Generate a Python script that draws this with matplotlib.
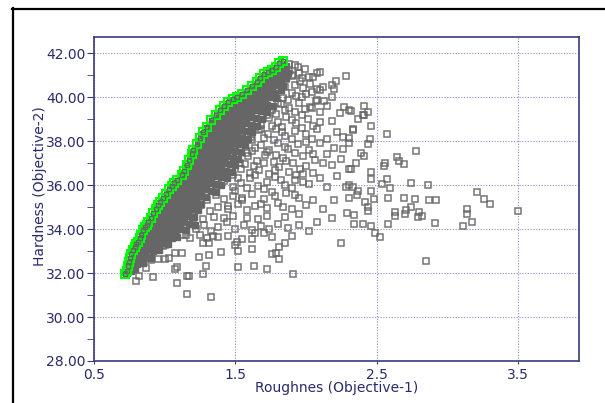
import matplotlib
matplotlib.use("Agg")
import matplotlib.pyplot as plt
from matplotlib.lines import Line2D
from matplotlib.ticker import FormatStrFormatter, MultipleLocator

# pareto front (green squares)
front_pts = [
    (0.72, 31.95), (0.73, 32.1), (0.74, 32.3), (0.75, 32.5), (0.755, 32.67),
    (0.765, 32.85), (0.778, 33.05), (0.79, 33.2), (0.80, 33.3), (0.813, 33.42),
    (0.825, 33.6), (0.835, 33.75), (0.848, 33.95), (0.86, 34.1), (0.872, 34.2),
    (0.884, 34.33), (0.90, 34.5), (0.92, 34.71), (0.935, 34.9), (0.954, 35.09),
    (0.97, 35.25), (0.99, 35.4), (1.01, 35.6), (1.03, 35.8), (1.05, 35.95),
    (1.065, 36.08), (1.09, 36.25), (1.12, 36.45), (1.14, 36.65), (1.16, 36.9),
    (1.175, 37.15), (1.19, 37.4), (1.20, 37.6), (1.225, 37.85), (1.249, 38.12),
    (1.27, 38.4), (1.296, 38.65), (1.33, 38.95), (1.36, 39.2), (1.39, 39.41),
    (1.42, 39.6), (1.447, 39.79), (1.48, 39.9), (1.51, 40.01), (1.545, 40.15),
    (1.58, 40.32), (1.615, 40.5), (1.65, 40.70), (1.675, 40.88), (1.70, 41.05),
    (1.73, 41.15), (1.756, 41.23), (1.785, 41.38), (1.81, 41.53), (1.84, 41.62),
]

# dense core just behind the front
core_pts = [
    (0.73, 32.0), (0.76, 32.1), (0.745, 32.3), (0.78, 32.25),
    (0.76, 32.6), (0.80, 32.55), (0.83, 32.5),
    (0.78, 32.9), (0.82, 32.85), (0.86, 32.9),
    (0.80, 33.2), (0.84, 33.15), (0.88, 33.25), (0.91, 33.1),
    (0.83, 33.5), (0.87, 33.45), (0.91, 33.55), (0.95, 33.4), (0.99, 33.5),
    (0.85, 33.8), (0.89, 33.75), (0.93, 33.85), (0.97, 33.7), (1.01, 33.8), (1.05, 33.75),
    (0.87, 34.1), (0.91, 34.05), (0.95, 34.15), (0.99, 34.0), (1.03, 34.1), (1.07, 34.05), (1.11, 34.15),
    (0.90, 34.4), (0.94, 34.35), (0.98, 34.45), (1.02, 34.3), (1.06, 34.4), (1.10, 34.35),
    (0.93, 34.7), (0.97, 34.65), (1.01, 34.75), (1.05, 34.6), (1.09, 34.7), (1.13, 34.65),
    (0.955, 35.0), (0.995, 34.95), (1.035, 35.05), (1.075, 34.9), (1.115, 35.0), (1.155, 34.95),
    (0.99, 35.3), (1.03, 35.25), (1.07, 35.35), (1.11, 35.2), (1.15, 35.3), (1.19, 35.25),
    (1.02, 35.6), (1.06, 35.55), (1.10, 35.65), (1.14, 35.5), (1.18, 35.6), (1.22, 35.55), (1.26, 35.6),
    (1.05, 35.9), (1.09, 35.85), (1.13, 35.95), (1.17, 35.8), (1.21, 35.9), (1.25, 35.85), (1.29, 35.95),
    (1.09, 36.2), (1.13, 36.15), (1.17, 36.25), (1.21, 36.1), (1.25, 36.2), (1.29, 36.15), (1.33, 36.25),
    (1.13, 36.5), (1.17, 36.45), (1.21, 36.55), (1.25, 36.4), (1.29, 36.5), (1.33, 36.45), (1.37, 36.55),
    (1.16, 36.8), (1.20, 36.75), (1.24, 36.85), (1.28, 36.7), (1.32, 36.8), (1.36, 36.75), (1.40, 36.85),
    (1.18, 37.1), (1.22, 37.05), (1.26, 37.15), (1.30, 37.0), (1.34, 37.1), (1.38, 37.05), (1.42, 37.15),
    (1.20, 37.4), (1.24, 37.35), (1.28, 37.45), (1.32, 37.3), (1.36, 37.4), (1.40, 37.35), (1.44, 37.45),
    (1.22, 37.7), (1.26, 37.65), (1.30, 37.75), (1.34, 37.6), (1.38, 37.7), (1.42, 37.65), (1.46, 37.75),
    (1.25, 38.0), (1.29, 37.95), (1.33, 38.05), (1.37, 37.9), (1.41, 38.0), (1.45, 37.95), (1.49, 38.05),
    (1.27, 38.3), (1.31, 38.25), (1.35, 38.35), (1.39, 38.2), (1.43, 38.3), (1.47, 38.25), (1.51, 38.35),
    (1.30, 38.6), (1.34, 38.55), (1.38, 38.65), (1.42, 38.5), (1.46, 38.6), (1.50, 38.55), (1.54, 38.65),
    (1.335, 38.9), (1.375, 38.85), (1.415, 38.95), (1.455, 38.8), (1.495, 38.9), (1.535, 38.85), (1.575, 38.95),
    (1.37, 39.2), (1.41, 39.15), (1.45, 39.25), (1.49, 39.1), (1.53, 39.2), (1.57, 39.15), (1.61, 39.25),
    (1.41, 39.5), (1.45, 39.45), (1.49, 39.55), (1.53, 39.4), (1.57, 39.5), (1.61, 39.45), (1.65, 39.55),
    (1.46, 39.8), (1.50, 39.75), (1.54, 39.85), (1.58, 39.7), (1.62, 39.8), (1.66, 39.75), (1.70, 39.85),
    (1.54, 40.1), (1.58, 40.05), (1.62, 40.15), (1.66, 40.0), (1.70, 40.1), (1.74, 40.05),
    (1.60, 40.4), (1.64, 40.35), (1.68, 40.45), (1.72, 40.3), (1.76, 40.4),
    (1.66, 40.7), (1.70, 40.65), (1.74, 40.75), (1.78, 40.6), (1.82, 40.7),
    (1.71, 41.0), (1.75, 40.95), (1.79, 41.05), (1.83, 40.9),
    (1.78, 41.3), (1.82, 41.25), (1.85, 41.3), (1.83, 41.5),
]

# second layer of the core, between the rows above
core2_pts = [
    (0.75, 32.15), (0.79, 32.2),
    (0.765, 32.45), (0.805, 32.4), (0.845, 32.45),
    (0.78, 32.75), (0.82, 32.7), (0.86, 32.75), (0.90, 32.7),
    (0.80, 33.05), (0.84, 33.0), (0.88, 33.1), (0.92, 33.0), (0.96, 33.05),
    (0.82, 33.35), (0.86, 33.3), (0.90, 33.4), (0.94, 33.3), (0.98, 33.35), (1.02, 33.3),
    (0.85, 33.65), (0.89, 33.6), (0.93, 33.7), (0.97, 33.6), (1.01, 33.65), (1.05, 33.6), (1.09, 33.65),
    (0.87, 33.95), (0.91, 33.9), (0.95, 34.0), (0.99, 33.9), (1.03, 33.95), (1.07, 33.9), (1.11, 34.0), (1.15, 33.95),
    (0.895, 34.25), (0.935, 34.2), (0.975, 34.3), (1.015, 34.2), (1.055, 34.25), (1.095, 34.2), (1.135, 34.3),
    (1.175, 34.25), (1.215, 34.2),
    (0.925, 34.55), (0.965, 34.5), (1.005, 34.6), (1.045, 34.5), (1.085, 34.55), (1.125, 34.5), (1.165, 34.6),
    (1.205, 34.55),
    (0.955, 34.85), (0.995, 34.8), (1.035, 34.9), (1.075, 34.8), (1.115, 34.85), (1.155, 34.8), (1.195, 34.9),
    (1.235, 34.85),
    (0.98, 35.15), (1.02, 35.1), (1.06, 35.2), (1.10, 35.1), (1.14, 35.15), (1.18, 35.1), (1.22, 35.2), (1.26, 35.15),
    (1.015, 35.45), (1.055, 35.4), (1.095, 35.5), (1.135, 35.4), (1.175, 35.45), (1.215, 35.4), (1.255, 35.5),
    (1.295, 35.45),
    (1.045, 35.75), (1.085, 35.7), (1.125, 35.8), (1.165, 35.7), (1.205, 35.75), (1.245, 35.7), (1.285, 35.8),
    (1.325, 35.75), (1.365, 35.7),
    (1.08, 36.05), (1.12, 36.0), (1.16, 36.1), (1.20, 36.0), (1.24, 36.05), (1.28, 36.0), (1.32, 36.1),
    (1.36, 36.05), (1.40, 36.0),
    (1.12, 36.35), (1.16, 36.3), (1.20, 36.4), (1.24, 36.3), (1.28, 36.35), (1.32, 36.3), (1.36, 36.4),
    (1.40, 36.35), (1.44, 36.3),
    (1.155, 36.65), (1.195, 36.6), (1.235, 36.7), (1.275, 36.6), (1.315, 36.65), (1.355, 36.6), (1.395, 36.7),
    (1.435, 36.65), (1.475, 36.6),
    (1.18, 36.95), (1.22, 36.9), (1.26, 37.0), (1.30, 36.9), (1.34, 36.95), (1.38, 36.9), (1.42, 37.0),
    (1.46, 36.95), (1.50, 36.9),
    (1.20, 37.25), (1.24, 37.2), (1.28, 37.3), (1.32, 37.2), (1.36, 37.25), (1.40, 37.2), (1.44, 37.3),
    (1.48, 37.25), (1.52, 37.2),
    (1.22, 37.55), (1.26, 37.5), (1.30, 37.6), (1.34, 37.5), (1.38, 37.55), (1.42, 37.5), (1.46, 37.6),
    (1.50, 37.55), (1.54, 37.5),
    (1.245, 37.85), (1.285, 37.8), (1.325, 37.9), (1.365, 37.8), (1.405, 37.85), (1.445, 37.8), (1.485, 37.9),
    (1.525, 37.85), (1.565, 37.8),
    (1.27, 38.15), (1.31, 38.1), (1.35, 38.2), (1.39, 38.1), (1.43, 38.15), (1.47, 38.1), (1.51, 38.2),
    (1.55, 38.15), (1.59, 38.1),
    (1.295, 38.45), (1.335, 38.4), (1.375, 38.5), (1.415, 38.4), (1.455, 38.45), (1.495, 38.4), (1.535, 38.5),
    (1.575, 38.45), (1.615, 38.4),
    (1.33, 38.75), (1.37, 38.7), (1.41, 38.8), (1.45, 38.7), (1.49, 38.75), (1.53, 38.7), (1.57, 38.8),
    (1.61, 38.75), (1.65, 38.7),
    (1.365, 39.05), (1.405, 39.0), (1.445, 39.1), (1.485, 39.0), (1.525, 39.05), (1.565, 39.0), (1.605, 39.1),
    (1.645, 39.05), (1.685, 39.0),
    (1.40, 39.35), (1.44, 39.3), (1.48, 39.4), (1.52, 39.3), (1.56, 39.35), (1.60, 39.3), (1.64, 39.4),
    (1.68, 39.35), (1.72, 39.3),
    (1.445, 39.65), (1.485, 39.6), (1.525, 39.7), (1.565, 39.6), (1.605, 39.65), (1.645, 39.6), (1.685, 39.7),
    (1.725, 39.65), (1.765, 39.6),
    (1.51, 39.95), (1.55, 39.9), (1.59, 40.0), (1.63, 39.9), (1.67, 39.95), (1.71, 39.9), (1.75, 40.0), (1.79, 39.95),
    (1.58, 40.25), (1.62, 40.2), (1.66, 40.3), (1.70, 40.2), (1.74, 40.25), (1.78, 40.2), (1.82, 40.3),
    (1.64, 40.55), (1.68, 40.5), (1.72, 40.6), (1.76, 40.5), (1.80, 40.55), (1.84, 40.5),
    (1.695, 40.85), (1.735, 40.8), (1.775, 40.9), (1.815, 40.8), (1.855, 40.85),
    (1.75, 41.15), (1.79, 41.1), (1.83, 41.2), (1.87, 41.1),
    (1.82, 41.45), (1.86, 41.4),
]

# medium density region
mid_pts = [
    (1.16, 34.3), (1.22, 34.0), (1.28, 34.2), (1.33, 33.9), (1.38, 34.1), (1.44, 34.3),
    (1.50, 34.0), (1.56, 34.2), (1.62, 33.95), (1.68, 34.15), (1.74, 34.0), (1.80, 34.25),
    (1.87, 34.05), (1.95, 34.2), (2.02, 33.9),
    (1.20, 34.5), (1.27, 34.45), (1.35, 34.55), (1.42, 34.5), (1.48, 34.6), (1.58, 34.5),
    (1.66, 34.45), (1.72, 34.6), (1.85, 34.55),
    (1.15, 33.75), (1.30, 33.6), (1.45, 33.7), (1.55, 33.55), (1.70, 33.8), (1.90, 33.7),
    (1.20, 34.85), (1.26, 35.1), (1.32, 34.8), (1.38, 35.0), (1.45, 34.9), (1.52, 35.15),
    (1.58, 34.85), (1.64, 35.05), (1.72, 34.95), (1.80, 35.2), (1.90, 34.9), (2.00, 35.1),
    (1.24, 35.45), (1.30, 35.3), (1.36, 35.55), (1.42, 35.35), (1.48, 35.5), (1.55, 35.4),
    (1.62, 35.6), (1.70, 35.35), (1.78, 35.5), (1.86, 35.65), (1.95, 35.4),
    (1.36, 35.95), (1.42, 36.2), (1.48, 35.9), (1.54, 36.1), (1.60, 36.3), (1.66, 35.95),
    (1.72, 36.15), (1.78, 36.35), (1.85, 36.0), (1.92, 36.25), (2.02, 36.05), (2.10, 36.3),
    (1.42, 36.6), (1.48, 36.45), (1.54, 36.75), (1.60, 36.55), (1.67, 36.7), (1.74, 36.5),
    (1.81, 36.8), (1.88, 36.6), (1.96, 36.75), (2.05, 36.55),
    (1.47, 37.2), (1.53, 37.0), (1.59, 37.3), (1.65, 37.1), (1.71, 37.35), (1.77, 37.05),
    (1.84, 37.25), (1.91, 37.0), (1.98, 37.3), (2.06, 37.15), (2.15, 37.4),
    (1.50, 37.6), (1.56, 37.85), (1.62, 37.55), (1.68, 37.8), (1.74, 37.6), (1.80, 37.9),
    (1.87, 37.65), (1.94, 37.85), (2.02, 37.6), (2.10, 37.9),
    (1.55, 38.45), (1.61, 38.2), (1.67, 38.5), (1.73, 38.3), (1.79, 38.55), (1.85, 38.25),
    (1.92, 38.45), (2.00, 38.3), (2.08, 38.55),
    (1.62, 38.95), (1.68, 38.75), (1.74, 39.05), (1.80, 38.85), (1.86, 39.1), (1.93, 38.8),
    (2.01, 39.0), (2.10, 38.85),
    (1.70, 39.6), (1.76, 39.4), (1.82, 39.7), (1.88, 39.5), (1.95, 39.75), (2.03, 39.55),
    (1.78, 40.1), (1.84, 39.95), (1.90, 40.2), (1.97, 40.0), (2.04, 40.25),
    (1.86, 40.8), (1.91, 41.0), (1.96, 40.75), (2.02, 40.9), (1.88, 41.2), (1.94, 41.35),
    (1.45, 35.05), (1.55, 35.3), (1.68, 35.15), (1.76, 35.7), (1.84, 35.0), (1.92, 35.55),
    (1.50, 35.75), (1.58, 35.85), (1.64, 36.45), (1.70, 35.8), (1.82, 36.25), (1.90, 35.85), (1.98, 36.15),
    (1.52, 36.3), (1.57, 36.95), (1.63, 36.85), (1.70, 37.0), (1.78, 36.7), (1.86, 37.1), (1.93, 36.45),
    (2.00, 36.85), (1.58, 37.45), (1.64, 37.7), (1.72, 37.5), (1.79, 37.35), (1.85, 37.75), (1.92, 37.45),
    (2.00, 37.95), (2.05, 37.4), (1.62, 38.05), (1.70, 38.15), (1.77, 38.05), (1.83, 38.4), (1.90, 38.1),
    (1.97, 38.6), (2.04, 38.1), (1.68, 38.55), (1.76, 38.7), (1.83, 38.65), (1.90, 38.95), (1.97, 39.2),
    (2.05, 38.7), (1.72, 39.2), (1.79, 39.25), (1.85, 39.4), (1.92, 39.3), (1.99, 39.45),
    (1.80, 39.75), (1.87, 39.85), (1.93, 40.05), (2.00, 40.15), (1.85, 40.45), (1.92, 40.55), (1.98, 40.4),
    (1.90, 40.95), (1.95, 41.1), (1.88, 41.5), (1.92, 41.45),
]

# scattered points
sparse_pts = [
    (2.28, 40.95), (2.10, 41.14), (2.57, 38.3), (2.78, 37.55), (2.64, 37.27), (2.66, 37.1),
    (2.69, 36.95), (2.56, 37.0), (2.55, 36.86), (2.74, 36.1), (2.86, 36.0), (2.54, 36.04),
    (2.59, 35.86), (2.57, 36.27), (3.21, 35.68), (3.26, 35.36), (3.30, 35.14), (3.50, 34.82),
    (3.14, 34.91), (3.14, 34.68), (3.17, 34.32), (3.11, 34.14), (2.91, 34.27), (2.92, 35.32),
    (2.87, 35.32), (2.77, 35.36), (2.69, 35.41), (2.74, 35.0), (2.71, 34.86), (2.70, 34.68),
    (2.63, 34.77), (2.63, 34.59), (2.80, 34.77), (2.82, 34.59), (2.79, 34.55), (2.85, 32.55),
    (2.58, 35.41), (2.58, 34.23), (2.52, 33.64), (2.49, 33.82), (2.25, 33.36), (2.46, 34.14),
    (2.46, 38.68), (2.44, 39.32), (2.41, 39.59), (2.44, 37.86), (2.45, 38.09), (2.39, 37.45),
    (2.41, 37.32), (2.46, 36.59), (2.46, 36.27), (2.46, 35.73), (2.48, 35.36), (2.42, 35.23),
    (2.44, 35.0), (2.44, 34.82), (2.37, 39.0), (2.40, 39.18), (2.33, 38.5), (2.36, 35.55),
    (2.37, 35.73), (2.34, 34.64), (2.40, 34.23), (2.34, 34.23), (2.29, 34.73), (2.30, 35.41),
    (2.28, 35.91), (2.30, 36.0), (2.32, 36.73), (2.35, 37.0), (2.30, 36.73), (2.26, 37.64),
    (2.30, 37.91), (2.30, 38.14), (2.26, 38.18), (2.33, 38.55), (2.30, 39.41), (2.32, 39.36),
    (2.27, 39.55), (2.41, 39.18), (2.18, 40.0), (2.21, 40.73), (2.18, 40.55), (2.20, 40.36),
    (2.12, 40.45), (2.08, 40.36), (2.13, 39.82), (2.07, 39.82), (2.24, 39.27), (2.33, 35.91),
    (2.08, 41.1), (2.05, 40.9), (1.99, 41.27), (1.97, 40.86), (2.03, 40.6), (2.10, 40.3),
    (2.08, 39.86), (2.15, 39.6), (2.04, 39.5), (2.10, 39.3),
    (2.18, 38.9), (2.22, 38.4), (2.15, 38.1), (2.20, 37.7), (2.25, 37.2), (2.18, 36.9),
    (2.22, 36.4), (2.15, 35.9), (2.20, 35.3), (2.12, 34.9), (2.18, 34.5), (2.08, 34.3),
    (1.50, 33.27), (1.52, 33.0), (1.40, 32.95), (1.31, 32.82), (1.24, 32.73), (1.12, 32.91),
    (1.07, 32.91), (1.03, 32.68), (1.00, 32.64), (0.99, 33.23), (0.95, 32.64), (0.90, 32.59),
    (1.09, 32.27), (1.07, 32.18), (1.16, 31.86), (1.09, 31.55), (0.92, 31.82), (1.27, 31.95),
    (1.29, 32.32), (1.16, 31.05), (1.33, 30.91), (1.52, 32.27), (1.63, 32.32), (1.72, 32.18),
    (1.91, 31.95), (1.62, 33.09), (1.76, 32.86), (1.79, 32.91), (1.81, 32.64), (1.81, 33.18),
    (1.85, 33.36), (1.76, 33.64), (1.62, 33.55), (1.64, 33.82), (1.51, 33.41), (1.27, 33.36),
    (1.31, 33.36), (1.34, 33.68), (1.38, 33.64), (1.25, 33.73), (1.18, 33.59), (1.12, 33.73),
    (1.04, 33.64), (1.00, 33.27), (0.92, 33.14), (0.80, 31.64), (0.82, 31.86), (1.17, 31.86),
    (0.88, 32.73), (0.87, 32.23), (1.95, 34.7), (2.05, 35.3), (1.98, 36.5), (2.12, 37.0),
]

x_ticks = [0.5, 1.5, 2.5, 3.5]
NAVY = "#2a2a6a"
GRAY = "#666666"

fig = plt.figure(figsize=(6.05, 4.03), dpi=100)
ax = fig.add_axes([94 / 605, 1 - 361 / 403, 485 / 605, 324 / 403])

core = core_pts + core2_pts
cx = [p[0] for p in core]
cy = [p[1] for p in core]
rest = mid_pts + sparse_pts
rx = [p[0] for p in rest]
ry = [p[1] for p in rest]
fx = [p[0] for p in front_pts]
fy = [p[1] for p in front_pts]

# overlapping squares in the core show as a solid mass
ax.plot(cx, cy, linestyle="none", marker="s", markersize=5, markerfacecolor=GRAY,
        markeredgecolor=GRAY, markeredgewidth=1.0, zorder=3)
ax.plot(rx, ry, linestyle="none", marker="s", markersize=5, markerfacecolor="none",
        markeredgecolor=GRAY, markeredgewidth=1.1, alpha=0.9, zorder=3)
# green front squares, with the gray points that sit inside them
ax.plot(fx, fy, linestyle="none", marker="s", markersize=5.6, markerfacecolor="none",
        markeredgecolor="#00ff00", markeredgewidth=1.5, zorder=4)
ax.plot(fx, fy, linestyle="none", marker="s", markersize=3, markerfacecolor="none",
        markeredgecolor=GRAY, markeredgewidth=1.0, zorder=5)

ax.set_xlim(0.5, 3.93)
ax.set_ylim(28, 42.73)
ax.set_xticks(x_ticks)
ax.yaxis.set_major_locator(MultipleLocator(2.0))
ax.yaxis.set_minor_locator(MultipleLocator(1.0))
ax.xaxis.set_major_formatter(FormatStrFormatter("%.1f"))
ax.yaxis.set_major_formatter(FormatStrFormatter("%.2f"))

ax.grid(True, which="major", linestyle=(0, (1, 1.5)), color="#8c8cc8", linewidth=0.8)
ax.set_axisbelow(True)
for s in ax.spines.values():
    s.set_color("#3a3a78")
    s.set_linewidth(1.2)

ax.tick_params(axis="y", which="both", length=5, color="#3a3a78", labelsize=10,
               labelcolor=NAVY, pad=1)
ax.tick_params(axis="x", which="both", length=2, color="#3a3a78", labelsize=10,
               labelcolor=NAVY, pad=3)

ax.set_xlabel("Roughnes (Objective-1)", fontsize=10, color=NAVY, labelpad=-1)
ax.set_ylabel("Hardness (Objective-2)", fontsize=10, color=NAVY)
ax.yaxis.set_label_coords(-0.097, 0.54)

# window frame lines (top and left)
fig.add_artist(Line2D([12 / 605, 1.0], [1 - 8.5 / 403, 1 - 8.5 / 403], color="black", linewidth=1.6))
fig.add_artist(Line2D([13 / 605, 13 / 605], [0.0, 1 - 8 / 403], color="black", linewidth=1.6))

fig.savefig("out.png", dpi=100)
